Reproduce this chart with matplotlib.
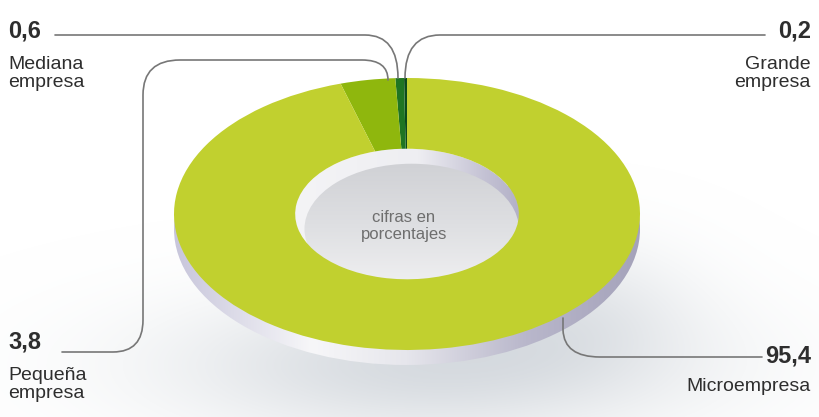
import numpy as np
import matplotlib
matplotlib.use("Agg")
import matplotlib.pyplot as plt
from matplotlib.patches import Ellipse, PathPatch
from matplotlib.path import Path
from matplotlib.colors import LinearSegmentedColormap

plt.rcParams['font.family'] = ['Liberation Sans', 'DejaVu Sans']

# data
categorias = ["Grande\nempresa", "Mediana\nempresa", "Pequeña\nempresa", "Microempresa"]
valores = [0.2, 0.6, 3.8, 95.4]
etiquetas = ["0,2", "0,6", "3,8", "95,4"]
colores = ["#0c4a1b", "#1f7522", "#8fb70d", "#c1d02f"]

W, H = 820, 417
cx, cy = 407, 214      # centre of donut (px)
ra, rb = 233, 136      # semi axes (px)
hueco = 0.48
prof = 15 / rb         # depth of the disc

fig = plt.figure(figsize=(W / 100, H / 100), dpi=100)

# background axes: soft shadow
bg = fig.add_axes([0, 0, 1, 1], zorder=0)
bg.set_xlim(0, W)
bg.set_ylim(H, 0)
bg.axis("off")
X, Y = np.meshgrid(np.arange(W), np.arange(H))
d1 = ((X - 430) / 300.0) ** 2 + ((Y - 365) / 85.0) ** 2
d2 = ((X - 580) / 150.0) ** 2 + ((Y - 300) / 90.0) ** 2
alpha = np.clip(0.7 * np.exp(-1.4 * d1) + 0.3 * np.exp(-1.8 * d2), 0, 1)
img = np.zeros((H, W, 4))
img[..., 0] = 0.78
img[..., 1] = 0.80
img[..., 2] = 0.83
img[..., 3] = alpha
bg.imshow(img, extent=(0, W, H, 0), interpolation="bilinear")

# donut axes: 1 unit = ra px horizontally, rb px vertically
ax = fig.add_axes([0, 0, 1, 1], zorder=1)
ax.patch.set_visible(False)

wedges, _ = ax.pie(valores, colors=colores, startangle=90, counterclock=True,
                   radius=1, center=(0, 0),
                   wedgeprops=dict(width=1 - hueco, linewidth=0, zorder=4))

ax.set_aspect("auto")
ax.set_xlim((0 - cx) / ra, (W - cx) / ra)
ax.set_ylim(-(H - cy) / rb, cy / rb)
ax.axis("off")

# side of the disc
lado_cmap = LinearSegmentedColormap.from_list(
    "lado", [(0, "#c6c4da"), (0.3, "#f7f7f9"), (0.5, "#e6e6ec"), (0.75, "#b9b7cb"), (1, "#a4a2ba")])
lado = Ellipse((0, -prof), 2, 2, facecolor="none", edgecolor="none")
ax.add_patch(lado)
grad = np.linspace(0, 1, 256).reshape(1, -1)
im = ax.imshow(grad, cmap=lado_cmap, extent=(-1.02, 1.02, -1.2, 0.2), aspect="auto", zorder=1)
im.set_clip_path(lado)

# inner wall of the hole
pared_cmap = LinearSegmentedColormap.from_list(
    "pared", [(0, "#f4f4f6"), (0.55, "#eeeef2"), (0.85, "#c4c2d4"), (1, "#b3b1c7")])
pared = Ellipse((0, 0), 2 * hueco, 2 * hueco, facecolor="none", edgecolor="none")
ax.add_patch(pared)
im2 = ax.imshow(grad, cmap=pared_cmap, extent=(-hueco, hueco, -hueco, hueco), aspect="auto", zorder=2)
im2.set_clip_path(pared)

# floor of the hole
suelo_cmap = LinearSegmentedColormap.from_list(
    "suelo", [(0, "#d0d1d5"), (0.5, "#dfe0e3"), (1, "#f2f2f3")])
suelo = Ellipse((0.02, -prof), 2 * hueco - 0.04, 2 * hueco, facecolor="none", edgecolor="none")
ax.add_patch(suelo)
gv = np.linspace(0, 1, 256).reshape(-1, 1)
im3 = ax.imshow(gv, cmap=suelo_cmap, extent=(-hueco, hueco + 0.02, -hueco - prof, hueco - prof),
                aspect="auto", origin="upper", zorder=3)
im3.set_clip_path(suelo)

# labels and leader lines in pixel coordinates
fg = fig.add_axes([0, 0, 1, 1], zorder=2)
fg.patch.set_visible(False)
fg.set_xlim(0, W)
fg.set_ylim(H, 0)
fg.axis("off")

M, L, C = Path.MOVETO, Path.LINETO, Path.CURVE3
lineas = [
    # mediana
    ([(55, 35), (365, 35), (398, 35), (398, 78)], [M, L, C, C]),
    # grande
    ([(765, 35), (440, 35), (405, 35), (405, 78)], [M, L, C, C]),
    # pequena
    ([(62, 352), (113, 352), (143, 352), (143, 320), (143, 95), (143, 60), (180, 60),
      (362, 60), (388, 60), (388, 80)], [M, L, C, C, L, C, C, L, C, C]),
    # micro
    ([(563, 318), (563, 330), (564, 357), (600, 357), (762, 357)], [M, L, C, C, L]),
]
for verts, codes in lineas:
    fg.add_patch(PathPatch(Path(verts, codes), facecolor="none", edgecolor="#777777",
                           linewidth=1.2, capstyle="round"))

tc = "#2e2e2e"
num_kw = dict(fontsize=17, fontweight="bold", color=tc, va="baseline")
nom_kw = dict(fontsize=14, color=tc, va="baseline", linespacing=1.08)

fg.text(8, 37, etiquetas[1], ha="left", **num_kw)
fg.text(8, 87, categorias[1], ha="left", **nom_kw)
fg.text(811, 37, etiquetas[0], ha="right", **num_kw)
fg.text(811, 87, categorias[0], ha="right", ma="right", **nom_kw)
fg.text(8, 348, etiquetas[2], ha="left", **num_kw)
fg.text(8, 398, categorias[2], ha="left", **nom_kw)
fg.text(811, 363, etiquetas[3], ha="right", **num_kw)
fg.text(811, 391, categorias[3], ha="right", **nom_kw)

fg.text(404, 226, "cifras en\nporcentajes", ha="center", va="center",
        fontsize=12, color="#6e6e6e", linespacing=1.15)

fig.savefig("out.png", dpi=100)
